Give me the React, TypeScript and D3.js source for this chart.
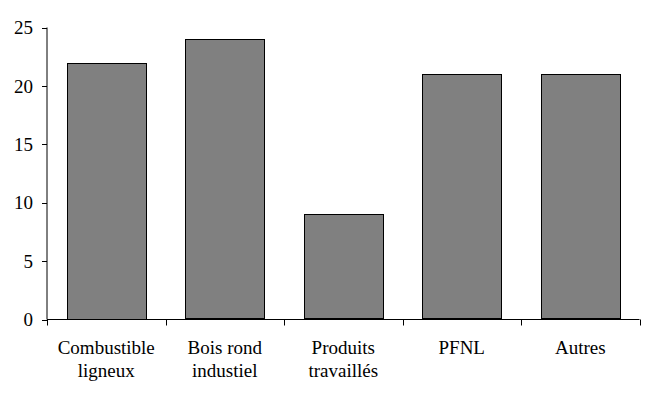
import React from "react";
import * as d3 from "d3";

const categories: string[][] = [
  ["Combustible", "ligneux"],
  ["Bois rond", "industiel"],
  ["Produits", "travaillés"],
  ["PFNL"],
  ["Autres"],
];
const values: number[] = [22, 24, 9, 21, 21];
const yTicks: number[] = [0, 5, 10, 15, 20, 25];

export default function App() {
  const W = 650, H = 399;
  const left = 47, right = 639.5, top = 27.5, bottom = 319.5;
  const keys = categories.map((c) => c.join(" "));
  const x = d3.scaleBand<string>().domain(keys).range([left, right]).paddingInner(0.333).paddingOuter(0.1665);
  const y = d3.scaleLinear().domain([0, 25]).range([bottom, top]);
  const bandEdges = keys.map((_, i) => left + (i * (right - left)) / keys.length).concat([right]);
  return (
    <svg width={W} height={H} style={{ position: "absolute", left: 0, top: 0 }}>
      <rect x={0} y={0} width={W} height={H} fill="#fff" />
      {values.map((v, i) => (
        <rect
          key={i}
          x={Math.round(x(keys[i])!) + 0.5}
          y={Math.round(y(v)) + 0.5}
          width={Math.round(x.bandwidth())}
          height={Math.round(y(0) - y(v)) - 1}
          fill="#808080"
          stroke="#000"
          strokeWidth={1}
        />
      ))}
      <line x1={left} x2={left} y1={top} y2={bottom} stroke="#000" />
      {yTicks.map((t) => (
        <g key={t}>
          <line x1={left - 5} x2={left} y1={Math.round(y(t)) + 0.5} y2={Math.round(y(t)) + 0.5} stroke="#000" />
          <text x={33} y={y(t)} dy="0.35em" textAnchor="end" fontFamily="Times New Roman" fontSize={19}>
            {t}
          </text>
        </g>
      ))}
      <line x1={left} x2={right} y1={bottom} y2={bottom} stroke="#000" />
      {bandEdges.map((e, i) => (
        <line key={i} x1={Math.round(e) + 0.5} x2={Math.round(e) + 0.5} y1={bottom} y2={bottom + 6} stroke="#000" />
      ))}
      {categories.map((lines, i) => (
        <text key={i} textAnchor="middle" fontFamily="Times New Roman" fontSize={19}>
          {lines.map((l, j) => (
            <tspan key={j} x={x(keys[i])! + x.bandwidth() / 2} y={354 + j * 23}>
              {l}
            </tspan>
          ))}
        </text>
      ))}
    </svg>
  );
}
